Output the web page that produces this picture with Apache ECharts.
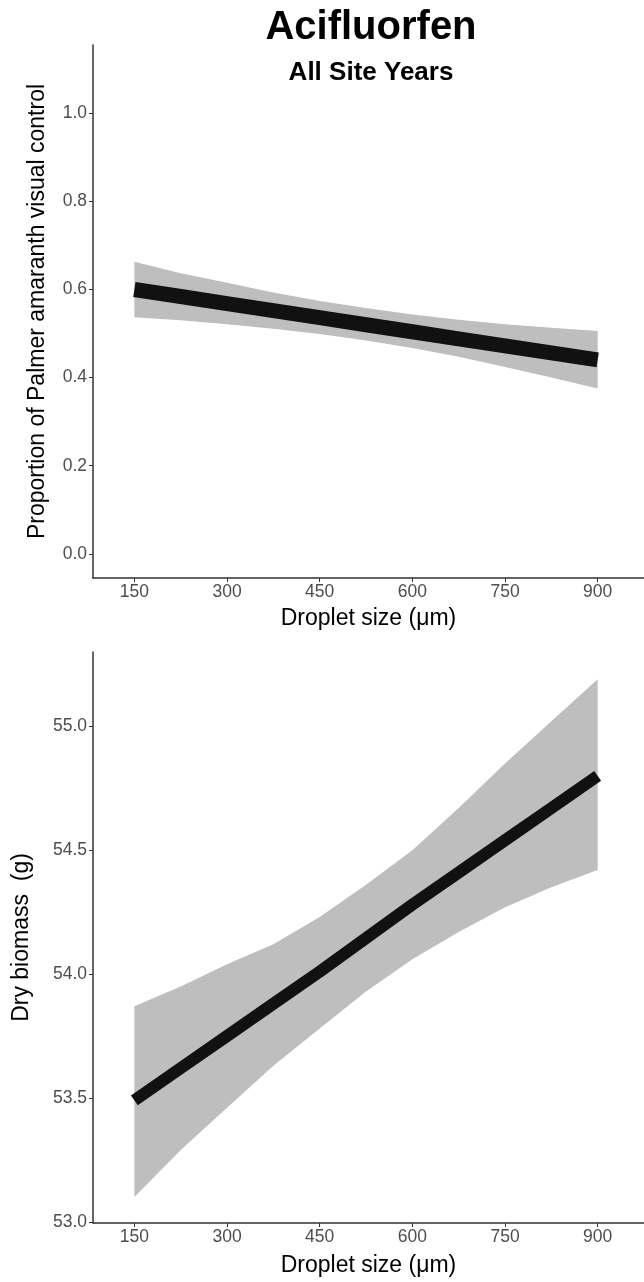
<!DOCTYPE html>
<html>
<head>
<meta charset="utf-8">
<script src="https://cdn.jsdelivr.net/npm/echarts@6/dist/echarts.min.js"></script>
<style>
  html, body { margin: 0; padding: 0; background: #ffffff; }
  #chart { width: 644px; height: 1282px; }
</style>
</head>
<body>
<div id="chart"></div>
<script>
// ---- data ----
const dropletSize   = [150, 225, 300, 375, 450, 525, 600, 675, 750, 825, 900];
const controlFit    = [0.600, 0.584, 0.568, 0.552, 0.536, 0.520, 0.504, 0.488, 0.472, 0.456, 0.440];
const controlUpper  = [0.663, 0.637, 0.615, 0.593, 0.574, 0.558, 0.543, 0.531, 0.521, 0.513, 0.506];
const controlLower  = [0.537, 0.530, 0.521, 0.511, 0.499, 0.484, 0.467, 0.447, 0.424, 0.400, 0.375];
const biomassFit    = [53.49, 53.62, 53.75, 53.88, 54.01, 54.145, 54.28, 54.41, 54.54, 54.67, 54.80];
const biomassUpper  = [53.87, 53.95, 54.04, 54.12, 54.23, 54.36, 54.50, 54.67, 54.85, 55.02, 55.19];
const biomassLower  = [53.10, 53.29, 53.46, 53.63, 53.78, 53.93, 54.06, 54.17, 54.27, 54.35, 54.42];
const xTickLabels       = [150, 300, 450, 600, 750, 900];
const controlTickLabels = [0.0, 0.2, 0.4, 0.6, 0.8, 1.0];
const biomassTickLabels = [53.0, 53.5, 54.0, 54.5, 55.0];

const titleText = 'Acifluorfen';
const subtitleText = 'All Site Years';
const xName = 'Droplet size (\u03bcm)';
const controlName = 'Proportion of Palmer amaranth visual control';
const biomassName = 'Dry biomass  (g)';

const FONT = '"Liberation Sans", Arial, sans-serif';
const AXIS_COLOR = '#333333';
const TICK_TEXT = '#4d4d4d';
const BAND = '#bebebe';
const LINE = '#111111';

const chart = echarts.init(document.getElementById('chart'), null, { renderer: 'canvas' });

function xAxisCfg(gridIndex, nameGap) {
  return {
    type: 'value', gridIndex: gridIndex, min: 83, max: 975,
    name: xName, nameLocation: 'middle', nameGap: nameGap,
    nameTextStyle: { color: '#000', fontSize: 23, fontFamily: FONT },
    axisLine: { show: true, onZero: false, lineStyle: { color: AXIS_COLOR, width: 1.5 } },
    axisTick: { show: true, length: 4, customValues: xTickLabels, lineStyle: { color: AXIS_COLOR, width: 1 } },
    axisLabel: { customValues: xTickLabels, color: TICK_TEXT, fontSize: 17.5, fontFamily: FONT, margin: 5 },
    splitLine: { show: false }
  };
}
function yAxisCfg(gridIndex, min, max, ticks, name, nameGap, digits) {
  return {
    type: 'value', gridIndex: gridIndex, min: min, max: max,
    name: name, nameLocation: 'middle', nameGap: nameGap, nameRotate: 90,
    nameTextStyle: { color: '#000', fontSize: 23, fontFamily: FONT },
    axisLine: { show: true, onZero: false, lineStyle: { color: AXIS_COLOR, width: 1.5 } },
    axisTick: { show: true, length: 4, customValues: ticks, lineStyle: { color: AXIS_COLOR, width: 1 } },
    axisLabel: { customValues: ticks, color: TICK_TEXT, fontSize: 17.5, fontFamily: FONT, margin: 6,
      formatter: function (v) { return Number(v).toFixed(digits); } },
    splitLine: { show: false }
  };
}

function bandSeries(idx, lower, upper) {
  return {
    type: 'custom', xAxisIndex: idx, yAxisIndex: idx, z: 1, silent: true,
    data: dropletSize.map(function (x, i) { return [x, lower[i], upper[i]]; }),
    encode: { x: 0, y: [1, 2] },
    renderItem: function (params, api) {
      if (params.dataIndex !== 0) return null;
      const pts = [];
      for (let i = 0; i < dropletSize.length; i++) pts.push(api.coord([dropletSize[i], upper[i]]));
      for (let i = dropletSize.length - 1; i >= 0; i--) pts.push(api.coord([dropletSize[i], lower[i]]));
      return { type: 'polygon', shape: { points: pts }, style: { fill: BAND } };
    }
  };
}
function lineSeries(idx, fit, width) {
  return {
    type: 'line', xAxisIndex: idx, yAxisIndex: idx, z: 3, silent: true,
    symbol: 'none', animation: false,
    data: dropletSize.map(function (x, i) { return [x, fit[i]]; }),
    lineStyle: { color: LINE, width: width, cap: 'butt' }
  };
}

chart.setOption({
  animation: false,
  backgroundColor: '#ffffff',
  textStyle: { fontFamily: FONT },
  graphic: [
    { type: 'text', x: 371, y: 28, style: { text: titleText, font: 'bold 40px ' + FONT, fill: '#000', textAlign: 'center', textVerticalAlign: 'middle' } },
    { type: 'text', x: 371, y: 73, style: { text: subtitleText, font: 'bold 26px ' + FONT, fill: '#000', textAlign: 'center', textVerticalAlign: 'middle' } }
  ],
  grid: [
    { left: 93, right: 0, top: 45, height: 533 },
    { left: 93, right: 0, top: 652, height: 571 }
  ],
  xAxis: [xAxisCfg(0, 29), xAxisCfg(1, 31)],
  yAxis: [
    yAxisCfg(0, -0.055, 1.155, controlTickLabels, controlName, 44, 1),
    yAxisCfg(1, 52.995, 55.30, biomassTickLabels, biomassName, 60, 1)
  ],
  series: [
    bandSeries(0, controlLower, controlUpper),
    lineSeries(0, controlFit, 15),
    bandSeries(1, biomassLower, biomassUpper),
    lineSeries(1, biomassFit, 12)
  ]
});
</script>
</body>
</html>
